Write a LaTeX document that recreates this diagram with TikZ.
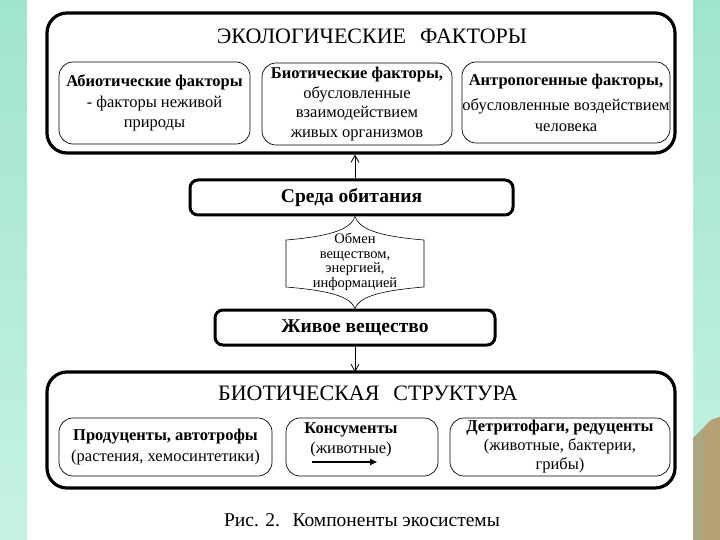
\documentclass[tikz,border=0pt]{standalone}
\usepackage{fontspec}
\setmainfont{Liberation Serif}
\usepackage{xcolor}
\usepackage{tikz}
\usetikzlibrary{arrows.meta,positioning,calc}
\definecolor{mintside}{RGB}{160,228,206}
\definecolor{mintlow}{RGB}{198,242,228}
\definecolor{rocktan}{RGB}{184,160,118}
\definecolor{rockgrey}{RGB}{170,166,128}
\newcommand{\fs}[2]{\fontsize{#1}{#2}\selectfont}

\begin{document}
\begin{tikzpicture}[x=1pt,y=-1pt,>={Straight Barb[length=7pt,width=8pt]},
  bigbox/.style={draw,line width=3.2pt,rounded corners=20pt,inner sep=0pt},
  factorbox/.style={draw,line width=0.7pt,rounded corners=14pt,inner sep=0pt,align=center,font=\fs{16.5}{20.5}},
  flowbox/.style={draw,line width=3pt,rounded corners=8pt,inner sep=0pt,font=\fs{19.5}{20}\bfseries},
  headtext/.style={font=\fs{22}{24}}]
  \useasboundingbox (0,0) rectangle (720,540);
  \fill[white] (27,0) rectangle (693,540);
  \shade[top color=mintside,bottom color=mintlow] (0,0) rectangle (27,540);
  \shade[top color=mintside,bottom color=mintlow] (693,0) rectangle (720,540);
  \fill[rockgrey] (693,438) -- (701,430) -- (711,420) -- (720,417) -- (720,540) -- (693,540) -- cycle;
  \fill[rocktan] (705,426) -- (711,420) -- (720,417) -- (720,540) -- (702,540) -- cycle;

  \node[bigbox,minimum width=628pt,minimum height=140pt] (eco) at (361,83) {};
  \node[headtext] (ecotitle) at (372,36) {ЭКОЛОГИЧЕСКИЕ\hspace{14pt}ФАКТОРЫ};
  \node[factorbox,minimum width=191pt,minimum height=82pt] (abio) at (154.5,103)
    {\textbf{Абиотические факторы}\\- факторы неживой\\природы};
  \node[factorbox,minimum width=190pt,minimum height=82pt,font=\fs{16.5}{19.5}] (bio) at (357,104)
    {\textbf{Биотические факторы,}\\обусловленные\\взаимодействием\\живых организмов};
  \node[factorbox,minimum width=208pt,minimum height=81pt] (anthro) at (566,102.5)
    {\textbf{Антропогенные факторы,}\\[5pt]обусловленные воздействием\\человека};

  \node[flowbox,minimum width=323pt,minimum height=35pt] (habitat) at (351.5,197.5) {Среда обитания};
  \node[flowbox,minimum width=280pt,minimum height=35pt] (living) at (355,327.5) {Живое вещество};
  \coordinate (exTop) at (living.north |- habitat.south);
  \coordinate (exBot) at (living.north);
  \draw[line width=0.6pt] (exTop) .. controls (351,228) and (335,236) .. (286,240) -- (286,287)
    .. controls (335,291) and (351,298) .. (exBot) .. controls (359,298) and (375,291) .. (424,287)
    -- (424,240) .. controls (375,236) and (359,228) .. (exTop);
  \node[font=\fs{14.5}{14.5},align=center] (exch) at (355,262) {Обмен\\веществом,\\энергией,\\информацией};
  \draw[->,line width=0.8pt] (habitat.north -| living.north) -- (eco.south -| living.north);
  \draw[->,line width=0.8pt] (living.south) -- (living.south |- 0,372);

  \node[bigbox,minimum width=628pt,minimum height=116pt] (biostr) at (361,430) {};
  \node[headtext] (biotitle) at (368,393) {БИОТИЧЕСКАЯ\hspace{14pt}СТРУКТУРА};
  \node[factorbox,minimum width=213pt,minimum height=58pt] (prod) at (165.5,447)
    {\textbf{Продуценты, автотрофы}\\(растения, хемосинтетики)};
  \node[factorbox,minimum width=152pt,minimum height=58pt] (cons) at (362,447) {};
  \node[font=\fs{16.5}{20},align=center] (constext) at (351,440) {\textbf{Консументы}\\(животные)};
  \coordinate (consA) at (312,462);
  \coordinate (consB) at (377,462);
  \draw[line width=1.6pt,-{Triangle[length=7pt,width=6pt]}] (consA) -- (consB);
  \node[factorbox,minimum width=220pt,minimum height=58pt,font=\fs{16.5}{19}] (detr) at (560,447)
    {\textbf{Детритофаги, редуценты}\\(животные, бактерии,\\грибы)};

  \node[font=\fs{19.5}{22}] (caption) at (362,520) {Рис. 2.\hspace{6pt} Компоненты экосистемы};
\end{tikzpicture}
\end{document}
